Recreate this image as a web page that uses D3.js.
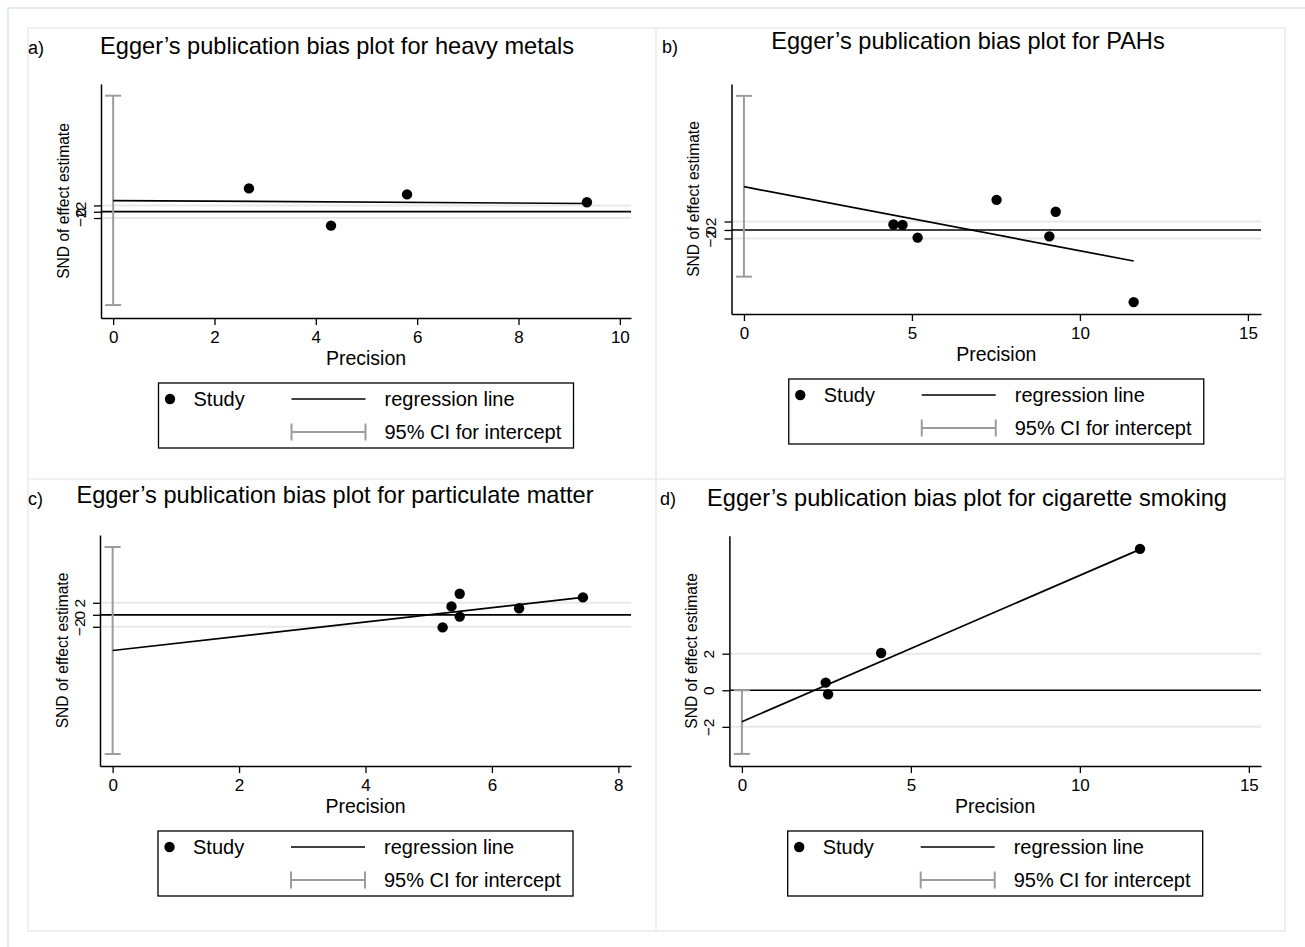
<!DOCTYPE html>
<html><head><meta charset="utf-8">
<script src="https://cdn.jsdelivr.net/npm/d3@7"></script>
<style>
body{margin:0;background:#fff}
svg text{font-family:"Liberation Sans",Arial,Helvetica,sans-serif;fill:#000}
</style>
</head><body>
<svg id="chart" width="1305" height="947"></svg>
<script>
// ---------- data ----------
const panelLetters = ["a)", "b)", "c)", "d)"];
const panelTitles = [
  "Egger\u2019s publication bias plot for heavy metals",
  "Egger\u2019s publication bias plot for PAHs",
  "Egger\u2019s publication bias plot for particulate matter",
  "Egger\u2019s publication bias plot for cigarette smoking"
];
const xTitle = "Precision";
const yTitle = "SND of effect estimate";
const legendLabels = ["Study", "regression line", "95% CI for intercept"];
const yTickValues = [-2, 0, 2];

const xTicksA = [0, 2, 4, 6, 8, 10];
const xTicksB = [0, 5, 10, 15];
const xTicksC = [0, 2, 4, 6, 8];
const xTicksD = [0, 5, 10, 15];

const precisionA = [2.68, 4.30, 5.80, 9.35];
const sndA       = [7.4, -4.4, 5.5, 3.0];
const regA       = [3.55, -0.10];          // intercept, slope
const ciA        = [-29.6, 36.8];

const precisionB = [4.45, 4.72, 5.17, 7.52, 9.09, 9.28, 11.6];
const sndB       = [1.3, 1.2, -1.8, 7.1, -1.5, 4.3, -17.0];
const regB       = [10.2, -1.51];
const ciB        = [-11.0, 31.6];

const precisionC = [5.22, 5.36, 5.49, 5.49, 6.43, 7.44];
const sndC       = [-2.1, 1.4, 3.5, -0.3, 1.1, 2.9];
const regC       = [-5.95, 1.19];
const ciC        = [-23.2, 11.3];

const precisionD = [2.48, 2.55, 4.12, 11.78];
const sndD       = [0.42, -0.22, 2.04, 7.73];
const regD       = [-1.72, 0.80];
const ciD        = [-3.48, 0.0];

const xDomainA = [-0.24, 10.22], yDomainA = [-33.7, 40.5];
const xDomainB = [-0.37, 15.39], yDomainB = [-19.8, 34.4];
const xDomainC = [-0.20, 8.20],  yDomainC = [-25.2, 13.3];
const xDomainD = [-0.37, 15.36], yDomainD = [-4.14, 8.45];

// ---------- layout ----------
const panels = [
  {letter: panelLetters[0], title: panelTitles[0], xs: precisionA, ys: sndA, reg: regA, ci: ciA,
   xTicks: xTicksA, xDom: xDomainA, yDom: yDomainA,
   frame: [28, 28, 656, 479], plot: {l: 101, r: 631, t: 84, b: 318},
   letterPos: [28, 54], titlePos: [337, 53.5]},
  {letter: panelLetters[1], title: panelTitles[1], xs: precisionB, ys: sndB, reg: regB, ci: ciB,
   xTicks: xTicksB, xDom: xDomainB, yDom: yDomainB,
   frame: [656, 28, 1285, 479], plot: {l: 731.5, r: 1261, t: 84, b: 314},
   letterPos: [662, 53], titlePos: [968, 49]},
  {letter: panelLetters[2], title: panelTitles[2], xs: precisionC, ys: sndC, reg: regC, ci: ciC,
   xTicks: xTicksC, xDom: xDomainC, yDom: yDomainC,
   frame: [28, 479, 656, 931], plot: {l: 100, r: 631, t: 535, b: 766},
   letterPos: [28, 505], titlePos: [335, 503]},
  {letter: panelLetters[3], title: panelTitles[3], xs: precisionD, ys: sndD, reg: regD, ci: ciD,
   xTicks: xTicksD, xDom: xDomainD, yDom: yDomainD,
   frame: [656, 479, 1285, 931], plot: {l: 729.4, r: 1261, t: 535.7, b: 766},
   letterPos: [660, 505], titlePos: [967, 505.5]}
];

const svg = d3.select("#chart");
svg.append("rect").attr("width", 1305).attr("height", 947).attr("fill", "#fff");
// outer frame (cropped)
svg.append("rect").attr("x", 8).attr("y", 8).attr("width", 1400).attr("height", 1000)
  .attr("fill", "none").attr("stroke", "#e4eaee").attr("stroke-width", 2);

panels.forEach(p => {
  const g = svg.append("g");
  const [fx0, fy0, fx1, fy1] = p.frame;
  g.append("rect").attr("x", fx0).attr("y", fy0).attr("width", fx1 - fx0).attr("height", fy1 - fy0)
    .attr("fill", "#fff").attr("stroke", "#efefef").attr("stroke-width", 2);

  const x = d3.scaleLinear().domain(p.xDom).range([p.plot.l, p.plot.r]);
  const y = d3.scaleLinear().domain(p.yDom).range([p.plot.b, p.plot.t]);

  // titles
  g.append("text").attr("x", p.letterPos[0]).attr("y", p.letterPos[1])
    .attr("font-size", 18).text(p.letter);
  g.append("text").attr("x", p.titlePos[0]).attr("y", p.titlePos[1])
    .attr("text-anchor", "middle").attr("font-size", 23.6).text(p.title);

  // grid lines
  g.selectAll(".grid").data(yTickValues.filter(v => v !== 0)).enter().append("line")
    .attr("x1", p.plot.l).attr("x2", p.plot.r)
    .attr("y1", d => y(d)).attr("y2", d => y(d))
    .attr("stroke", "#e8e8e8").attr("stroke-width", 2);
  // zero reference line
  g.append("line").attr("x1", p.plot.l).attr("x2", p.plot.r)
    .attr("y1", y(0)).attr("y2", y(0)).attr("stroke", "#000").attr("stroke-width", 1.7);

  // CI for intercept
  const cx = x(0);
  g.append("line").attr("x1", cx).attr("x2", cx).attr("y1", y(p.ci[0])).attr("y2", y(p.ci[1]))
    .attr("stroke", "#9c9c9c").attr("stroke-width", 2);
  p.ci.forEach(v => {
    g.append("line").attr("x1", cx - 8).attr("x2", cx + 8).attr("y1", y(v)).attr("y2", y(v))
      .attr("stroke", "#9c9c9c").attr("stroke-width", 2);
  });

  // regression line
  const xmax = d3.max(p.xs);
  g.append("line").attr("x1", x(0)).attr("y1", y(p.reg[0]))
    .attr("x2", x(xmax)).attr("y2", y(p.reg[0] + p.reg[1] * xmax))
    .attr("stroke", "#000").attr("stroke-width", 1.7);

  // points
  g.selectAll(".pt").data(p.xs.map((v, i) => [v, p.ys[i]])).enter().append("circle")
    .attr("cx", d => x(d[0])).attr("cy", d => y(d[1])).attr("r", 5.2).attr("fill", "#000");

  // x axis
  const xa = g.append("g").attr("transform", `translate(0,${p.plot.b})`)
    .call(d3.axisBottom(x).tickValues(p.xTicks).tickFormat(d3.format("d")).tickSize(7).tickSizeOuter(0).tickPadding(5.5));
  xa.select(".domain").attr("stroke", "#000").attr("stroke-width", 1.5);
  xa.selectAll(".tick line").attr("stroke", "#000").attr("stroke-width", 1.3);
  xa.selectAll(".tick text").attr("font-size", 17).attr("font-family", null);

  // y axis
  const ya = g.append("g").attr("transform", `translate(${p.plot.l},0)`)
    .call(d3.axisLeft(y).tickValues(yTickValues).tickSize(7).tickSizeOuter(0));
  ya.select(".domain").attr("stroke", "#000").attr("stroke-width", 1.5);
  ya.selectAll(".tick line").attr("stroke", "#000").attr("stroke-width", 1.3);
  ya.selectAll(".tick text").attr("font-size", 15.5).attr("font-family", null)
    .attr("transform", "rotate(-90)").attr("x", 0).attr("y", -15.5).attr("dy", 0)
    .attr("text-anchor", "middle");

  // axis titles
  g.append("text").attr("x", (p.plot.l + p.plot.r) / 2).attr("y", p.plot.b + 47)
    .attr("text-anchor", "middle").attr("font-size", 19.5).text(xTitle);
  g.append("text")
    .attr("transform", `translate(${p.plot.l - 38},${(p.plot.t + p.plot.b) / 2}) rotate(-90)`)
    .attr("text-anchor", "middle").attr("dy", "0.36em").attr("font-size", 15.6).text(yTitle);

  // legend
  const lw = 415, lh = 65;
  const lx = (p.plot.l + p.plot.r) / 2 - lw / 2, ly = p.plot.b + 65;
  const lg = g.append("g").attr("transform", `translate(${lx},${ly})`);
  lg.append("rect").attr("width", lw).attr("height", lh).attr("fill", "#fff")
    .attr("stroke", "#000").attr("stroke-width", 1.3);
  const r1 = 16, r2 = 49;
  lg.append("circle").attr("cx", 11.5).attr("cy", r1).attr("r", 5.2).attr("fill", "#000");
  lg.append("text").attr("x", 35).attr("y", r1).attr("dy", "0.35em").attr("font-size", 20).text(legendLabels[0]);
  lg.append("line").attr("x1", 133).attr("x2", 207).attr("y1", r1).attr("y2", r1)
    .attr("stroke", "#000").attr("stroke-width", 1.7);
  lg.append("text").attr("x", 226).attr("y", r1).attr("dy", "0.35em").attr("font-size", 20).text(legendLabels[1]);
  lg.append("line").attr("x1", 133).attr("x2", 207).attr("y1", r2).attr("y2", r2)
    .attr("stroke", "#9c9c9c").attr("stroke-width", 2);
  [133, 207].forEach(cxx => lg.append("line").attr("x1", cxx).attr("x2", cxx)
    .attr("y1", r2 - 8.5).attr("y2", r2 + 8.5).attr("stroke", "#9c9c9c").attr("stroke-width", 2));
  lg.append("text").attr("x", 226).attr("y", r2).attr("dy", "0.35em").attr("font-size", 20).text(legendLabels[2]);
});
</script>
</body></html>
